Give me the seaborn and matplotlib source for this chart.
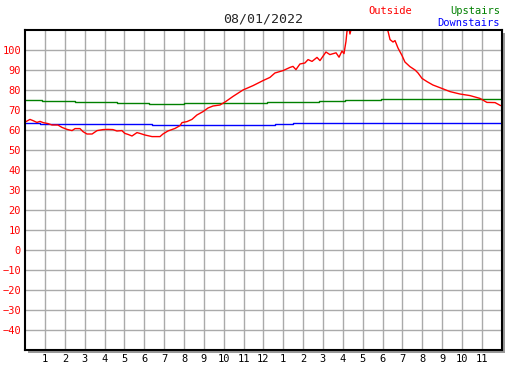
import matplotlib
matplotlib.use("Agg")
import matplotlib.pyplot as plt
import matplotlib.patches as mpatches
import seaborn as sns
import pandas as pd

# hours after midnight, temperatures in F
outside_hours = [0.04, 0.24, 0.39, 0.59, 0.75, 0.90, 1.15, 1.35, 1.65, 1.85, 2.11, 2.36, 2.51,
                 2.76, 2.91, 3.11, 3.37, 3.62, 3.92, 4.17, 4.42, 4.62, 4.87, 5.02, 5.18, 5.38,
                 5.63, 5.78, 6.03, 6.39, 6.79, 6.94, 7.19, 7.55, 7.80, 7.90, 8.15, 8.40, 8.65,
                 8.96, 9.21, 9.46, 9.81, 10.07, 10.47, 10.97, 11.48, 11.98, 12.33, 12.58, 12.99,
                 13.34, 13.49, 13.64, 13.84, 14.09, 14.25, 14.45, 14.70, 14.85, 15.15, 15.35,
                 15.66, 15.81, 15.96, 16.06, 16.16, 16.21, 16.31, 16.36, 16.46, 16.87, 17.37,
                 17.87, 18.18, 18.28, 18.38, 18.53, 18.63, 18.78, 18.98, 19.13, 19.38, 19.64,
                 19.79, 19.99, 20.24, 20.54, 20.99, 21.40, 21.90, 22.41, 22.91, 23.26, 23.67, 23.95]
outside_temp = [64.2, 65.3, 64.7, 63.8, 64.3, 63.7, 63.2, 62.5, 62.5, 61.3, 60.3, 59.7, 60.7,
                60.7, 59.2, 58.0, 58.0, 59.7, 60.2, 60.3, 60.2, 59.5, 59.7, 58.3, 57.8, 57.0,
                58.7, 58.3, 57.5, 56.7, 56.7, 58.0, 59.5, 60.8, 62.2, 63.7, 64.2, 65.3, 67.5,
                69.2, 71.0, 72.0, 72.5, 74.0, 76.8, 80.0, 82.2, 84.7, 86.3, 88.5, 89.7,
                91.3, 91.8, 90.2, 93.0, 93.5, 95.2, 94.3, 96.3, 94.7, 99.0, 97.7,
                98.6, 96.4, 99.5, 98.2, 104.3, 109.3, 111.0, 108.0, 112.0, 120.0, 125.0,
                120.0, 112.0, 109.3, 105.2, 104.0, 104.7, 101.0, 97.3, 94.0, 91.7, 90.0,
                88.5, 85.8, 84.2, 82.5, 80.8, 79.2, 78.0, 77.2, 75.8, 73.8, 73.7, 72.2]

upstairs_hours = [0, 0.85, 2.5, 4.63, 6.24, 8.0, 12.2, 14.8, 16.1, 17.9, 23.95]
upstairs_temp = [75, 74.5, 74, 73.5, 73, 73.5, 74, 74.5, 75, 75.5, 75.5]

downstairs_hours = [0, 0.75, 6.4, 12.6, 13.5, 23.95]
downstairs_temp = [63.4, 62.9, 62.4, 62.9, 63.4, 63.4]

hour_labels = [str(h) for h in range(1, 13)] + [str(h) for h in range(1, 12)]
y_ticks = list(range(-40, 101, 10))

outside = pd.DataFrame({"hour": outside_hours, "temp": outside_temp})
upstairs = pd.DataFrame({"hour": upstairs_hours, "temp": upstairs_temp})
downstairs = pd.DataFrame({"hour": downstairs_hours, "temp": downstairs_temp})

sns.set_style("white")
plt.rcParams["font.family"] = ["DejaVu Sans Mono"]

W, H = 527, 370
fig = plt.figure(figsize=(W / 100, H / 100), dpi=100)
x0, y0, x1, y1 = 25.2, 30, 501.6, 350
ax = fig.add_axes([x0 / W, 1 - y1 / H, (x1 - x0) / W, (y1 - y0) / H])

# gray drop shadow behind the frame
shadow = mpatches.Rectangle(((x0 + 3) / W, 1 - (y1 + 3) / H), (x1 - x0) / W, (y1 - y0) / H,
                            transform=fig.transFigure, facecolor="#999999", edgecolor="none",
                            zorder=-5)
fig.patches.append(shadow)

sns.lineplot(data=upstairs, x="hour", y="temp", color="#008000", lw=1, drawstyle="steps-post", ax=ax)
sns.lineplot(data=downstairs, x="hour", y="temp", color="#0000ff", lw=1, drawstyle="steps-post", ax=ax)
sns.lineplot(data=outside, x="hour", y="temp", color="#ff0000", lw=1, ax=ax)

ax.set_xlim(0, 24)
ax.set_ylim(-50, 110)
ax.set_xticks(range(1, 24))
ax.set_xticklabels(hour_labels)
ax.set_yticks(y_ticks)
ax.set_xlabel("")
ax.set_ylabel("")
ax.grid(True, color="#aaaaaa", lw=1)
ax.set_axisbelow(True)
for s in ax.spines.values():
    s.set_color("black")
    s.set_linewidth(1.5)
ax.tick_params(direction="in", length=4, width=1.2, color="black", labelsize=7.5, pad=3)
ax.tick_params(axis="y", labelcolor="#ff0000")
ax.tick_params(axis="x", labelcolor="black")

fig.text(263 / W, 1 - 19 / H, "08/01/2022", ha="center", va="center", fontsize=9.5)
fig.text(390 / W, 1 - 11 / H, "Outside", ha="center", va="center", fontsize=7.5, color="#ff0000")
fig.text(500 / W, 1 - 11 / H, "Upstairs", ha="right", va="center", fontsize=7.5, color="#008000")
fig.text(500 / W, 1 - 23 / H, "Downstairs", ha="right", va="center", fontsize=7.5, color="#0000ff")

fig.savefig("out.png", dpi=100)
